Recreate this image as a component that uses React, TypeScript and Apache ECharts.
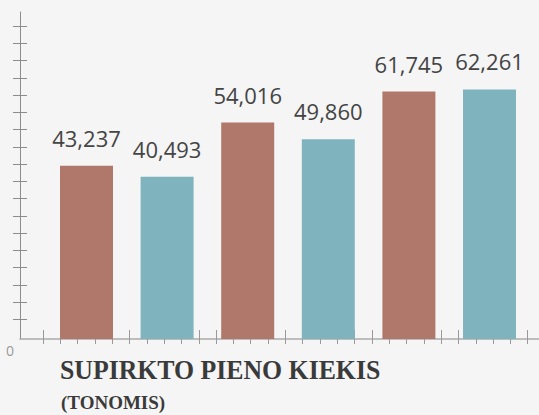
import React, { useEffect, useRef } from "react";
import * as echarts from "echarts";

const categories = ["1", "2", "3", "4", "5", "6"];
const values = [43237, 40493, 54016, 49860, 61745, 62261];
const barColors = ["#b0786b", "#7fb4bf", "#b0786b", "#7fb4bf", "#b0786b", "#7fb4bf"];
const titleText = "SUPIRKTO PIENO KIEKIS";
const subtitleText = "(TONOMIS)";
const zeroLabel = "0";

// decorative tick positions (in pixel-like units of the frame axes)
const xTickValues: number[] = [];
for (let k = 0; k <= 28; k++) xTickValues.push(23 + 17.31 * k);
const yTickValues: number[] = [];
for (let k = 0; k <= 17; k++) yTickValues.push(19.6 + 17.25 * k);

export default function App() {
  const ref = useRef<HTMLDivElement>(null);
  useEffect(() => {
    if (!ref.current) return;
    const chart = echarts.init(ref.current, undefined, { renderer: "svg" });
    const axisGray = "#8c8c8c";
    const tickGray = "#9a9a9a";
    chart.setOption({
      animation: false,
      backgroundColor: "#f5f5f5",
      grid: [
        { left: 46.2, right: 9.2, top: 12, bottom: 76 },
        { left: 20, right: 0, top: 12, bottom: 76 },
      ],
      xAxis: [
        {
          type: "category",
          gridIndex: 0,
          data: categories,
          axisLine: { show: false },
          axisTick: { show: false },
          axisLabel: { show: false },
          splitLine: { show: false },
        },
        {
          type: "value",
          gridIndex: 1,
          min: 0,
          max: 519,
          axisLine: { show: true, onZero: false, lineStyle: { color: "#aaaaaa", width: 1.5 } },
          axisTick: { show: true, customValues: xTickValues, length: 5, lineStyle: { color: tickGray, width: 1 } },
          axisLabel: { show: false },
          splitLine: { show: false },
        },
        {
          type: "value",
          gridIndex: 1,
          min: 0,
          max: 519,
          position: "bottom",
          axisLine: { show: false, onZero: false },
          axisTick: { show: true, inside: true, customValues: xTickValues, length: 9, lineStyle: { color: tickGray, width: 1 } },
          axisLabel: { show: false },
          splitLine: { show: false },
        },
      ],
      yAxis: [
        {
          type: "value",
          gridIndex: 0,
          min: 0,
          max: 81600,
          show: false,
          splitLine: { show: false },
        },
        {
          type: "value",
          gridIndex: 1,
          min: 0,
          max: 327,
          position: "left",
          axisLine: { show: true, onZero: false, lineStyle: { color: axisGray, width: 1 } },
          axisTick: { show: true, customValues: yTickValues, length: 7, lineStyle: { color: axisGray, width: 1 } },
          axisLabel: { show: false },
          splitLine: { show: false },
        },
        {
          type: "value",
          gridIndex: 1,
          min: 0,
          max: 327,
          position: "left",
          axisLine: { show: false, onZero: false },
          axisTick: { show: true, inside: true, customValues: yTickValues, length: 7, lineStyle: { color: axisGray, width: 1 } },
          axisLabel: { show: false },
          splitLine: { show: false },
        },
      ],
      series: [
        {
          type: "bar",
          xAxisIndex: 0,
          yAxisIndex: 0,
          barWidth: 53,
          data: values.map((v, i) => ({ value: v, itemStyle: { color: barColors[i] } })),
          label: {
            show: true,
            position: "top",
            distance: 17,
            fontFamily: "'Open Sans', sans-serif",
            fontSize: 22,
            color: "#444444",
            formatter: (p: any) => Number(p.value).toLocaleString("en-US"),
          },
        },
      ],
      graphic: [
        {
          type: "text",
          left: 6,
          top: 343,
          style: { text: zeroLabel, font: "14px 'Open Sans', sans-serif", fill: "#9a9a9a" },
        },
        {
          type: "text",
          x: 60,
          y: 356,
          scaleX: 0.955,
          scaleY: 1.03,
          style: { text: titleText, font: "bold 27px 'Liberation Serif', serif", fill: "#3a3a3a" },
        },
        {
          type: "text",
          x: 61,
          y: 393,
          style: { text: subtitleText, font: "bold 19px 'Liberation Serif', serif", fill: "#3a3a3a" },
        },
      ],
    });
    return () => chart.dispose();
  }, []);
  return (
    <div
      ref={ref}
      style={{ position: "fixed", left: 0, top: 0, width: 539, height: 415 }}
    />
  );
}
